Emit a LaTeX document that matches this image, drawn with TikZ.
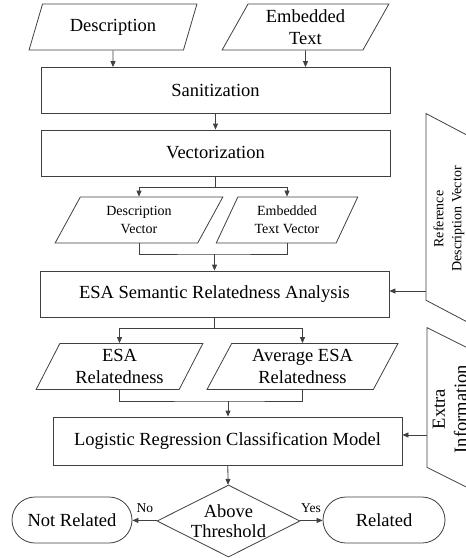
\documentclass[tikz,border=0pt]{standalone}
\usepackage{fontspec}
\setmainfont{Liberation Serif}
\usetikzlibrary{positioning,arrows.meta,shapes.geometric}

\begin{document}
\begin{tikzpicture}[
    x=1pt, y=-1pt,
    box/.style={draw=black!75, line width=0.8pt, minimum width=349, minimum height=46,
                inner sep=0pt, font=\fontsize{18.5}{22}\selectfont},
    io/.style={trapezium, trapezium left angle=63, trapezium right angle=117,
               trapezium stretches=true, draw=black!75, line width=0.8pt, minimum height=46,
               inner sep=0pt, align=center, font=\fontsize{18.5}{22}\selectfont},
    small/.style={font=\fontsize{14}{18}\selectfont},
    term/.style={draw=black!75, line width=0.8pt, rounded corners=23pt, minimum height=46,
                 inner sep=0pt, font=\fontsize{18.5}{22}\selectfont},
    dec/.style={diamond, draw=black!75, line width=0.8pt, minimum width=143, minimum height=72,
                inner sep=0pt},
    lnk/.style={draw=black!75, line width=0.8pt},
    arr/.style={lnk, -{Triangle[length=6pt,width=5pt]}}
]
\useasboundingbox (0,0) rectangle (466,558);
\clip (0,0) rectangle (466,558);

\node[io, minimum width=168] (desc) at (113,27) {Description};
\node[io, minimum width=167] (emb) at (305.5,27) {Embedded\\Text};
\node[box] (san) at (215.5,90.5) {Sanitization};
\node[box] (vec) at (215.5,153) {Vectorization};
\node[io, small, minimum width=168] (dvec) at (139,220) {Description\\Vector};
\node[io, small, minimum width=142] (evec) at (287,220) {Embedded\\Text Vector};
\node[box] (esa) at (214.5,294) {ESA Semantic Relatedness Analysis};
\node[io, minimum width=167] (esar) at (119.5,366.5) {ESA\\Relatedness};
\node[io, minimum width=191] (avg) at (302.5,366.5) {Average ESA\\Relatedness};
\node[box, minimum height=48] (lr) at (227.5,441) {Logistic Regression Classification Model};
\node[dec, label={[align=center, font=\fontsize{18.5}{20}\selectfont]center:Above\\Threshold}] (thr) at (228.5,521) {};
\node[term, minimum width=120] (notrel) at (72,520) {Not Related};
\node[term, minimum width=122] (rel) at (384,520) {Related};
\node[io, small, rotate=90, minimum width=211] (refvec) at (449,219) {Reference\\Description Vector};
\node[io, rotate=90, minimum width=163] (extra) at (450,409) {Extra\\Information};

\coordinate (s1) at (215.5,187);
\coordinate (j1) at (214.5,254);
\coordinate (s2) at (214.5,328);
\coordinate (j2) at (228,401);
\coordinate (esain) at ([yshift=3pt]esa.east);
\coordinate (lrin) at ([yshift=6pt]lr.east);

\draw[arr] (desc) -- (desc |- san.north);
\draw[arr] (emb) -- (emb |- san.north);
\draw[arr] (san) -- (vec);
\draw[lnk] (vec) -- (s1);
\draw[arr] (s1) -| (dvec.north);
\draw[arr] (s1) -| (evec.north);
\draw[lnk] (dvec.south) |- (j1) -| (evec.south);
\draw[arr] (j1) -- (esa);
\draw[lnk] (esa) -- (s2);
\draw[arr] (s2) -| (esar.north);
\draw[arr] (s2) -| (avg.north);
\draw[lnk] (esar.south) |- (j2) -| (avg.south);
\draw[arr] (j2) -- (j2 |- lr.north);
\draw[arr] (lr) -- (thr);
\draw[arr] (thr) -- node[above, yshift=4pt, font=\fontsize{13.5}{16}\selectfont] {No} (notrel);
\draw[arr] (thr) -- node[above, yshift=4pt, font=\fontsize{13.5}{16}\selectfont] {Yes} (rel);
\draw[arr] (refvec.north |- esain) -- (esain);
\draw[arr] (extra.north |- lrin) -- (lrin);
\end{tikzpicture}
\end{document}
